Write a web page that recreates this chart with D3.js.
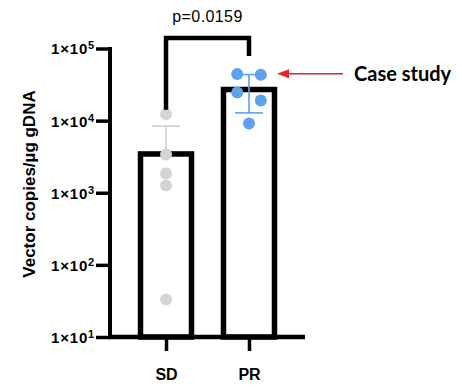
<!DOCTYPE html>
<html lang="en">
<head>
	<meta charset="UTF-8">
	<title>Vector copies</title>
	<script src="https://cdn.jsdelivr.net/npm/d3@7"></script>
	<style>
		body { margin: 0; background: #fff; }
		svg text { font-family: "Liberation Sans", Arial, sans-serif; }
	</style>
</head>
<body>
<script>
	var groups = ['SD', 'PR'];
	var means = [3450, 27000];
	var sdTop = [8400, 43500];
	var sdBottom = [null, 12800];
	var sdPoints = [12300, 3400, 1850, 1260, 33];
	var prPoints = [44200, 43300, 24600, 19000, 9100];
	// horizontal jitter of the dots, in units of the group centre (-1 left, 1 right)
	var prOffsets = [-1, 1, -1, 1, 0];
	var yTicks = [10, 100, 1000, 10000, 100000];
	var pText = 'p=0.0159';
	var yLabel = 'Vector copies/\u00b5g gDNA';
	var callout = 'Case study';

	var svg = d3.select('body').append('svg')
		.attr('width', 462)
		.attr('height', 388);

	var y = d3.scaleLog().domain([10, 100000]).range([337, 48.5]);
	var x = d3.scalePoint().domain(groups).range([110, 305]).padding(0.675);

	var barW = 51;

	// bars
	svg.selectAll('.bar')
		.data(groups)
		.enter().append('rect')
		.attr('x', function (d) { return x(d) - barW / 2; })
		.attr('y', function (d, i) { return y(means[i]); })
		.attr('width', barW)
		.attr('height', function (d, i) { return y(10) - y(means[i]); })
		.attr('fill', '#fff')
		.attr('stroke', '#000')
		.attr('stroke-width', 5.5);

	// error bars
	var errCol = ['#cfcfcf', '#5ea2ef'];
	groups.forEach(function (g, i) {
		var lo = sdBottom[i] === null ? means[i] : sdBottom[i];
		svg.append('line')
			.attr('x1', x(g)).attr('x2', x(g))
			.attr('y1', y(sdTop[i])).attr('y2', y(lo))
			.attr('stroke', errCol[i]).attr('stroke-width', 1.6);
		svg.append('line')
			.attr('x1', x(g) - 14).attr('x2', x(g) + 14)
			.attr('y1', y(sdTop[i])).attr('y2', y(sdTop[i]))
			.attr('stroke', errCol[i]).attr('stroke-width', 1.6);
		if (sdBottom[i] !== null) {
			svg.append('line')
				.attr('x1', x(g) - 14).attr('x2', x(g) + 14)
				.attr('y1', y(sdBottom[i])).attr('y2', y(sdBottom[i]))
				.attr('stroke', errCol[i]).attr('stroke-width', 1.6);
		}
	});

	// dots
	svg.selectAll('.sd')
		.data(sdPoints)
		.enter().append('circle')
		.attr('cx', x('SD'))
		.attr('cy', function (d) { return y(d); })
		.attr('r', 6)
		.attr('fill', '#d4d4d4');

	svg.selectAll('.pr')
		.data(prPoints)
		.enter().append('circle')
		.attr('cx', function (d, i) { return x('PR') + prOffsets[i] * 11.8; })
		.attr('cy', function (d) { return y(d); })
		.attr('r', 6)
		.attr('fill', '#5ea2ef');

	// axes
	var yAxis = svg.append('g')
		.attr('transform', 'translate(110,0)')
		.call(d3.axisLeft(y).tickValues(yTicks).tickSize(14).tickSizeOuter(0).tickFormat(''));
	yAxis.select('.domain').attr('stroke-width', 4).attr('d', 'M0,' + (y(100000) - 1.5) + 'V' + (y(10) + 2));
	yAxis.selectAll('.tick line').attr('stroke-width', 3.5);
	yAxis.selectAll('.tick').append('text')
		.attr('x', -15)
		.attr('dy', '0.36em')
		.attr('fill', '#000')
		.attr('text-anchor', 'end')
		.style('font-size', '15px')
		.style('font-weight', 'bold')
		.style('letter-spacing', '0.8px')
		.each(function (d) {
			var t = d3.select(this);
			t.append('tspan').text('1\u00d710');
			t.append('tspan').attr('dy', '-0.45em').style('font-size', '11px').text(Math.round(Math.log10(d)));
		});

	var xAxis = svg.append('g')
		.attr('transform', 'translate(0,' + y(10) + ')')
		.call(d3.axisBottom(x).tickSize(14).tickSizeOuter(0).tickFormat(''));
	xAxis.select('.domain').attr('stroke-width', 4.5).attr('d', 'M108,0H305');
	xAxis.selectAll('.tick line').attr('stroke-width', 3.5);
	xAxis.selectAll('.tick').append('text')
		.attr('y', 43)
		.attr('fill', '#000')
		.attr('text-anchor', 'middle')
		.style('font-size', '16px')
		.style('font-weight', 'bold')
		.text(function (d) { return d; });

	// y label
	svg.append('text')
		.attr('transform', 'translate(35,184) rotate(-90)')
		.attr('text-anchor', 'middle')
		.style('font-size', '17px')
		.style('font-weight', 'bold')
		.text(yLabel);

	// significance bracket
	var bY = 38;
	svg.append('path')
		.attr('d', 'M' + x('SD') + ',' + y(sdPoints[0] * 1.15) + 'V' + bY + 'H' + x('PR') + 'V' + (bY + 18))
		.attr('fill', 'none')
		.attr('stroke', '#000')
		.attr('stroke-width', 4.5);
	svg.append('text')
		.attr('x', (x('SD') + x('PR')) / 2)
		.attr('y', 22)
		.attr('text-anchor', 'middle')
		.style('font-size', '16px')
		.style('letter-spacing', '0.4px')
		.text(pText);

	// call-out arrow
	var aY = y(prPoints[1]) - 1;
	svg.append('line')
		.attr('x1', 287).attr('x2', 343)
		.attr('y1', aY).attr('y2', aY)
		.attr('stroke', '#e3242b').attr('stroke-width', 1.5);
	svg.append('path')
		.attr('d', 'M277,' + aY + 'L289,' + (aY - 4.5) + 'L289,' + (aY + 4.5) + 'Z')
		.attr('fill', '#e3242b');
	svg.append('text')
		.attr('x', 354)
		.attr('y', aY + 7)
		.style('font-family', 'Lato, sans-serif')
		.style('font-size', '20px')
		.style('font-weight', 'bold')
		.text(callout);
</script>
</body>
</html>
